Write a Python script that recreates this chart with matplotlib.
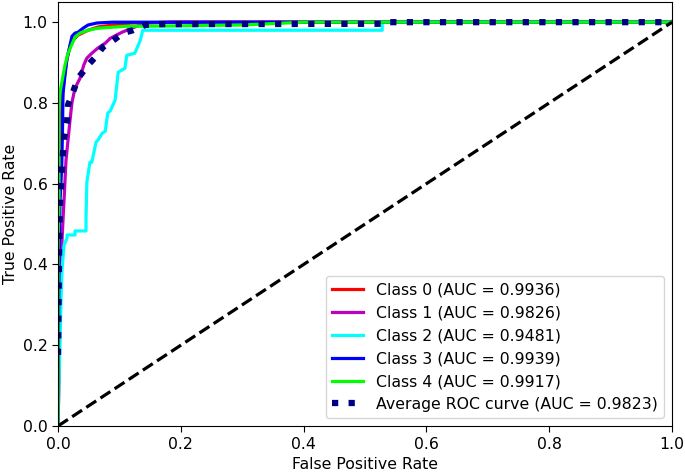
import numpy as np
import matplotlib
matplotlib.use("Agg")
import matplotlib.pyplot as plt

# ROC points (fpr, tpr)
fpr_0 = [0, 0.0008, 0.0016, 0.0033, 0.0065, 0.0098, 0.0147, 0.0195, 0.0244, 0.0326, 0.049, 0.065, 0.09, 0.12, 0.2, 1.0]
tpr_0 = [0, 0.30, 0.50, 0.68, 0.80, 0.86, 0.91, 0.94, 0.955, 0.968, 0.98, 0.988, 0.993, 0.998, 1.0, 1.0]

fpr_1 = [0, 0.0016, 0.0033, 0.0049, 0.0065, 0.0081, 0.0098, 0.0114, 0.013, 0.0163, 0.0195, 0.0228, 0.0277,
         0.0358, 0.042, 0.047, 0.055, 0.065, 0.077, 0.085, 0.104, 0.125, 0.142, 0.182, 1.0]
tpr_1 = [0, 0.114, 0.312, 0.401, 0.460, 0.510, 0.559, 0.609, 0.658, 0.708, 0.757, 0.802, 0.837,
         0.861, 0.894, 0.911, 0.923, 0.936, 0.948, 0.960, 0.975, 0.988, 0.998, 1.0, 1.0]

fpr_2 = [0, 0.0016, 0.0033, 0.0049, 0.0065, 0.0098, 0.0147, 0.0147, 0.0277, 0.0277, 0.0456, 0.0456, 0.047,
         0.052, 0.055, 0.062, 0.065, 0.072, 0.077, 0.081, 0.085, 0.093, 0.098, 0.109, 0.112, 0.125, 0.134,
         0.138, 0.528, 0.528, 1.0]
tpr_2 = [0, 0.114, 0.213, 0.312, 0.386, 0.448, 0.465, 0.473, 0.473, 0.483, 0.483, 0.515, 0.604,
         0.653, 0.653, 0.703, 0.708, 0.725, 0.730, 0.775, 0.780, 0.807, 0.876, 0.886, 0.918, 0.923, 0.955,
         0.980, 0.980, 1.0, 1.0]

fpr_3 = [0, 0.0008, 0.0016, 0.0033, 0.006, 0.0073, 0.0081, 0.0114, 0.0142, 0.0195, 0.0228, 0.0277, 0.0326,
         0.0407, 0.0489, 0.0635, 0.0896, 1.0]
tpr_3 = [0, 0.238, 0.411, 0.559, 0.641, 0.733, 0.824, 0.869, 0.906, 0.943, 0.965, 0.973, 0.975,
         0.985, 0.993, 0.998, 1.0, 1.0]

fpr_4 = [0, 0, 0.0016, 0.0016, 0.0033, 0.0114, 0.0163, 0.0277, 0.0358, 0.049, 0.065, 0.093, 0.114, 0.142,
         0.3, 0.4, 1.0]
tpr_4 = [0, 0.45, 0.55, 0.78, 0.827, 0.894, 0.923, 0.963, 0.973, 0.980, 0.985, 0.988, 0.99, 0.99,
         0.993, 1.0, 1.0]

fpr_avg = [0, 0.0016, 0.0033, 0.0049, 0.0065, 0.0081, 0.0098, 0.0147, 0.0163, 0.0244, 0.0326, 0.049, 0.0635,
           0.073, 0.090, 0.106, 0.122, 0.142, 0.166, 0.528, 0.53, 1.0]
tpr_avg = [0.176, 0.411, 0.552, 0.592, 0.634, 0.676, 0.713, 0.752, 0.795, 0.827, 0.861, 0.894, 0.918,
           0.938, 0.955, 0.973, 0.980, 0.993, 0.995, 0.996, 1.0, 1.0]

aucs = [0.9936, 0.9826, 0.9481, 0.9939, 0.9917]
avg_auc = 0.9823
colors = ['red', 'm', 'aqua', 'blue', 'lime']

fprs = [fpr_0, fpr_1, fpr_2, fpr_3, fpr_4]
tprs = [tpr_0, tpr_1, tpr_2, tpr_3, tpr_4]

plt.rcParams['font.size'] = 11.3
plt.rcParams['xtick.major.size'] = 4
plt.rcParams['ytick.major.size'] = 4
plt.rcParams['xtick.major.pad'] = 4
plt.rcParams['axes.labelpad'] = 3.5

fig = plt.figure(figsize=(6.85, 4.73), dpi=100)
ax = fig.add_axes([0.0847, 0.0994, 0.8963, 0.8964])

for i in range(5):
    ax.plot(fprs[i], tprs[i], color=colors[i], lw=2.3,
            label='Class {0} (AUC = {1:0.4f})'.format(i, aucs[i]))

ax.plot(fpr_avg, tpr_avg, color='navy', linestyle=':', lw=4.5,
        label='Average ROC curve (AUC = {0:0.4f})'.format(avg_auc))
ax.plot([0, 1], [0, 1], 'k--', lw=2.3)

ax.set_xlim([0.0, 1.0])
ax.set_ylim([0.0, 1.05])
ax.set_xlabel('False Positive Rate')
ax.set_ylabel('True Positive Rate')
ax.legend(loc='lower right')

fig.savefig('out.png', dpi=100)
